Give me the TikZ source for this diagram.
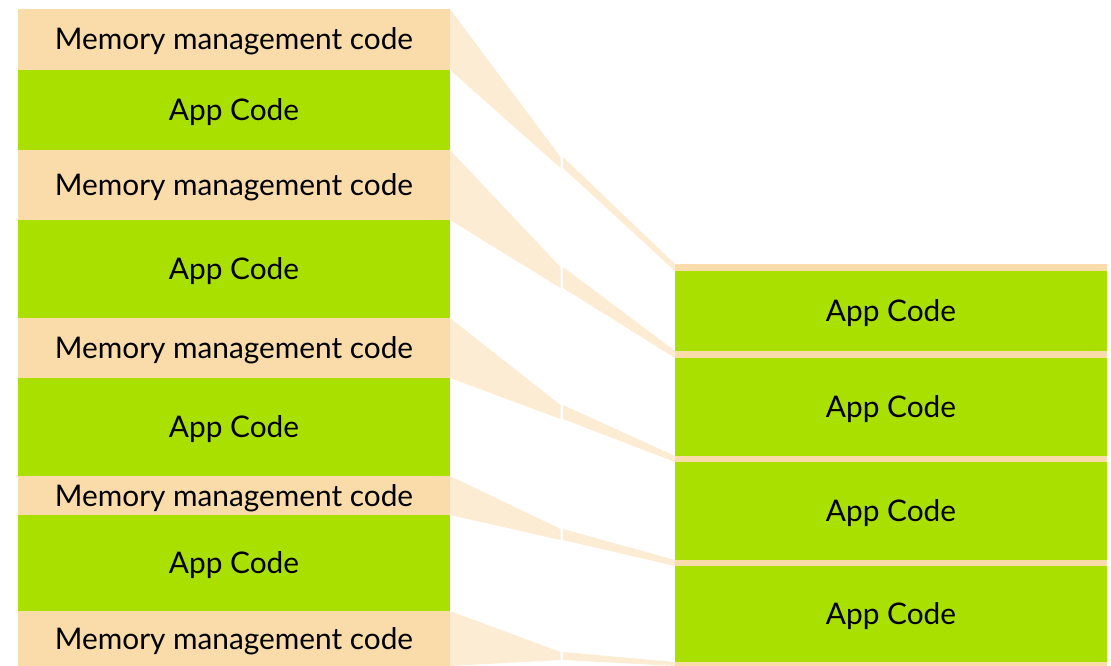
\documentclass[tikz,border=0pt]{standalone}
\usepackage{fontspec}
\setmainfont{Lato}
\definecolor{mmfill}{RGB}{250,220,170}
\definecolor{appfill}{RGB}{170,224,0}
\definecolor{funnel}{RGB}{252,236,212}
\begin{document}
\begin{tikzpicture}[x=1pt,y=-1pt,
  block/.style={anchor=north west, inner sep=0pt, outer sep=0pt, text=black,
    font=\fontsize{29.8}{34}\selectfont, text height=21pt, text depth=0pt},
  mmblock/.style={block, fill=mmfill, minimum width=432pt},
  appblock/.style={block, fill=appfill, minimum width=432pt},
  strip/.style={block, fill=mmfill, minimum width=432pt, text height=0pt},
  band/.style={fill=funnel, draw=none}]
\useasboundingbox (0,0) rectangle (1111,666);

% left column: interleaved memory management and application code
\node[mmblock, minimum height=61pt]  (m1) at (18,9)   {Memory management code};
\node[appblock, minimum height=80pt] (a1) at (18,70)  {App Code};
\node[mmblock, minimum height=70pt]  (m2) at (18,150) {Memory management code};
\node[appblock, minimum height=98pt] (a2) at (18,220) {App Code};
\node[mmblock, minimum height=60pt]  (m3) at (18,318) {Memory management code};
\node[appblock, minimum height=98pt] (a3) at (18,378) {App Code};
\node[mmblock, minimum height=39pt]  (m4) at (18,476) {Memory management code};
\node[appblock, minimum height=96pt] (a4) at (18,515) {App Code};
\node[mmblock, minimum height=55pt]  (m5) at (18,611) {Memory management code};

% right column: application code with thin memory management strips
\node[strip, minimum height=7pt]     (s1) at (675,264) {};
\node[appblock, minimum height=80pt] (b1) at (675,271) {App Code};
\node[strip, minimum height=7pt]     (s2) at (675,351) {};
\node[appblock, minimum height=98pt] (b2) at (675,358) {App Code};
\node[strip, minimum height=6pt]     (s3) at (675,456) {};
\node[appblock, minimum height=98pt] (b3) at (675,462) {App Code};
\node[strip, minimum height=6pt]     (s4) at (675,560) {};
\node[appblock, minimum height=96pt] (b4) at (675,566) {App Code};
\node[strip, minimum height=4pt]     (s5) at (675,662) {};

% mid points of the shrinking bands
\coordinate (p1t) at (561,157); \coordinate (p1b) at (561,168);
\coordinate (p2t) at (561,267); \coordinate (p2b) at (561,288);
\coordinate (p3t) at (561,405); \coordinate (p3b) at (561,419);
\coordinate (p4t) at (561,529); \coordinate (p4b) at (561,540);
\coordinate (p5t) at (561,652); \coordinate (p5b) at (561,660);

% bands: left half into the mid points, right half onto the strips
\foreach \i in {1,...,5}{
  \fill[band] (m\i.north east) -- ([xshift=-0.5pt]p\i t) -- ([xshift=-0.5pt]p\i b) -- (m\i.south east) -- cycle;
  \fill[band] ([xshift=2pt]p\i t) -- (s\i.north west) -- (s\i.south west) -- ([xshift=2pt]p\i b) -- cycle;
}
\end{tikzpicture}
\end{document}
